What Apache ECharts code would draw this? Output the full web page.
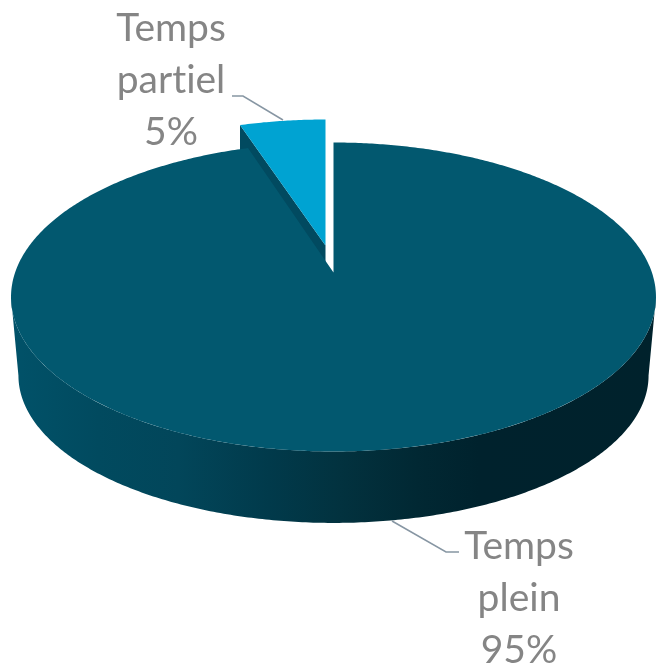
<!DOCTYPE html>
<html><head><meta charset="utf-8">
<style>html,body{margin:0;padding:0;background:#fff}#c{width:659px;height:666px}</style>
<script src="https://cdn.jsdelivr.net/npm/echarts@6/dist/echarts.min.js"></script>
</head><body><div id="c"></div>
<script>
const categories = ['Temps plein', 'Temps partiel'];
const values = [95, 5];
const labelLines = [['Temps', 'plein'], ['Temps', 'partiel']];

const total = values.reduce((a, b) => a + b, 0);
const P = {cx: 333.5, cy: 272.5, a: 318.4, b: 150.6, k: 0.1586, depth: 79.5, shrinkX: 0.977, shrinkY: 0.955};
const explode = [[0, 0], [-8, -23]];
const apexLift = [0, -4];
const layout = [
  {text: [519, 598], line: [[392, 521], [446, 552], [459, 552]]},
  {text: [171, 80], line: [[232, 96], [243, 96], [283, 120]]}
];
const colors = ['#02586F', '#00A3D2'];
const wallColor = '#014A60';

// clock angle (radians from top, clockwise) -> perspective point on the top face
function topPt(t, o) {
  const x = Math.sin(t), y = -Math.cos(t), d = 1 - P.k * y;
  return [P.cx + P.a * x / d + o[0], P.cy + P.b * y / d + o[1]];
}
function lowPt(t, o) {
  const x = Math.sin(t), y = -Math.cos(t), d = 1 - P.k * y;
  return [P.cx + P.shrinkX * P.a * x / d + o[0], P.cy + P.shrinkY * P.b * y / d + P.depth + o[1]];
}
function arc(fn, t0, t1, o) {
  const n = Math.max(4, Math.ceil(Math.abs(t1 - t0) / 0.01)), r = [];
  for (let i = 0; i <= n; i++) r.push(fn(t0 + (t1 - t0) * i / n, o));
  return r;
}

const chart = echarts.init(document.getElementById('c'), null, {renderer: 'canvas'});
const option = {
  animation: false,
  backgroundColor: '#fff',
  series: [{
    type: 'custom',
    coordinateSystem: 'none',
    silent: true,
    data: values.map((v, i) => ({name: categories[i], value: v})),
    renderItem(params, api) {
      const i = params.dataIndex, v = api.value(0);
      let before = 0;
      for (let j = 0; j < i; j++) before += values[j];
      const t0 = before / total * 2 * Math.PI, t1 = (before + v) / total * 2 * Math.PI;
      const o = explode[i];
      const apex = [P.cx + o[0], P.cy + o[1] + apexLift[i]];
      const children = [];
      if (i === 0) {
        // outer wall of the big slice, between the silhouette tangent points
        const tA = Math.PI - Math.acos(P.k), tB = Math.PI + Math.acos(P.k);
        const pts = arc(topPt, tA, tB, o).concat(arc(lowPt, tB, tA, o));
        children.push({
          type: 'polygon', z2: 1, shape: {points: pts},
          style: {
            fill: new echarts.graphic.LinearGradient(0, 0, 1, 0, [
              {offset: 0, color: '#015269'},
              {offset: 0.136, color: '#014A5F'},
              {offset: 0.26, color: '#02465A'},
              {offset: 0.40, color: '#013A4B'},
              {offset: 0.51, color: '#02323F'},
              {offset: 0.63, color: '#012833'},
              {offset: 0.725, color: '#00222D'},
              {offset: 1, color: '#00222C'}
            ])
          }
        });
      } else {
        // cut face seen on the left side of the exploded slice
        const l = topPt(t0, o), dy = P.depth;
        children.push({
          type: 'polygon', z2: 2,
          shape: {points: [l, apex, [apex[0], apex[1] + dy], [l[0], l[1] + dy]]},
          style: {fill: wallColor}
        });
      }
      children.push({
        type: 'polygon', z2: i === 0 ? 3 : 4,
        shape: {points: [apex].concat(arc(topPt, t0, t1, o))},
        style: {fill: colors[i]}
      });
      children.push({
        type: 'polyline', z2: 5,
        shape: {points: layout[i].line},
        style: {stroke: '#8796A3', lineWidth: 1.5, fill: 'none'}
      });
      const pct = Math.round(v / total * 100) + '%';
      children.push({
        type: 'text', z2: 6,
        x: layout[i].text[0], y: layout[i].text[1],
        style: {
          text: labelLines[i].concat([pct]).join('\n'),
          font: '39px Lato', lineHeight: 52,
          fill: '#858585', align: 'center', verticalAlign: 'middle'
        }
      });
      return {type: 'group', children};
    }
  }]
};
chart.setOption(option);
// turn off the "ti" ligature, which the reference text does not have
document.querySelectorAll('#c canvas').forEach(cv => { cv.getContext('2d').textRendering = 'optimizeSpeed'; });
chart.setOption(option, true);
</script></body></html>
